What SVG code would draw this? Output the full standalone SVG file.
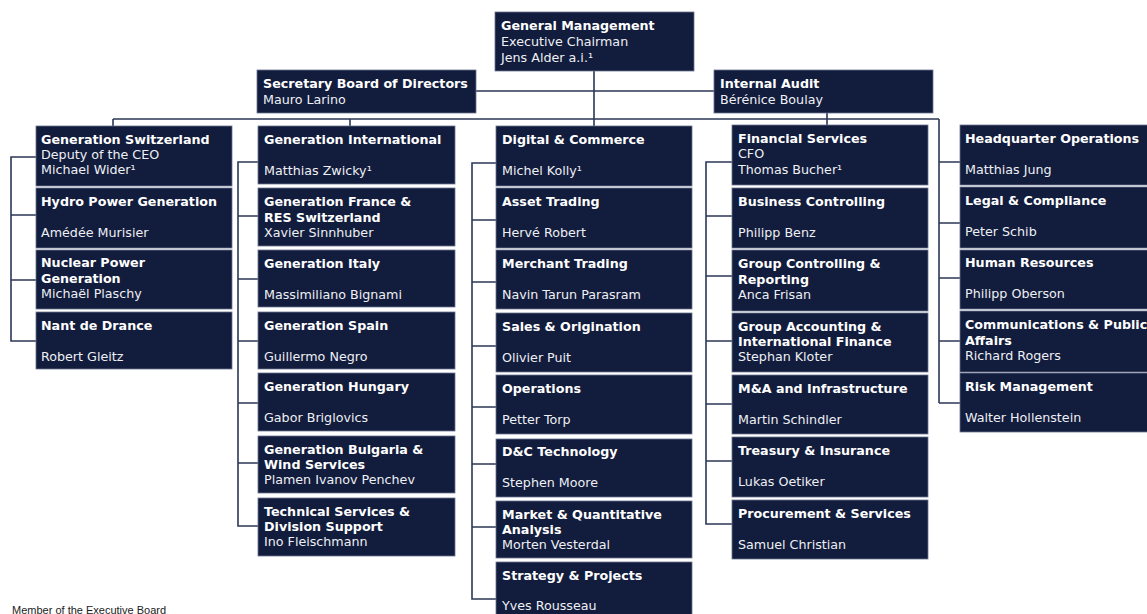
<svg xmlns="http://www.w3.org/2000/svg" width="1147" height="614" viewBox="0 0 1147 614">
<style>
.bx{fill:#121c3c;stroke:#6c7590;stroke-width:0.8}
.t{font-family:"DejaVu Sans",Verdana,sans-serif;font-size:12.7px;fill:#ffffff}
.b{font-weight:bold}
.n{fill:#eef0f5}
.ln{fill:none;stroke:#2c3757;stroke-width:1.6}
.fn{font-family:"Liberation Sans",Arial,sans-serif;font-size:11px;fill:#222}
</style>
<rect width="1147" height="614" fill="#ffffff"/>
<g id="connectors" class="ln">
<path d="M594 71V126M476 91H714M113 119H939M113 119V126M350 119V126M827 113V126M939 119V403"/>
<path d="M36 157H11V341H36M11 215H36M11 280H36"/>
<path d="M258 162H238V526H258M238 216H258M238 279H258M238 341H258M238 403H258M238 463H258"/>
<path d="M496 163H472V599H496M472 220H496M472 282H496M472 346H496M472 407H496M472 464H496M472 527H496"/>
<path d="M732 162H706V524H732M706 216H732M706 276H732M706 341H732M706 404H732M706 461H732"/>
<path d="M939 162H960M939 223H960M939 278H960M939 341H960M939 403H960"/>
</g>
<g id="general-management"><rect class="bx" x="495" y="12" width="199" height="59"/><text class="t b" x="501" y="30">General Management</text><text class="t n" x="501" y="46">Executive Chairman</text><text class="t n" x="501" y="62">Jens Alder a.i.¹</text></g>
<g id="secretary"><rect class="bx" x="257" y="70" width="219" height="43"/><text class="t b" x="263" y="88">Secretary Board of Directors</text><text class="t n" x="263" y="104">Mauro Larino</text></g>
<g id="internal-audit"><rect class="bx" x="714" y="70" width="219" height="43"/><text class="t b" x="720" y="88">Internal Audit</text><text class="t n" x="720" y="104">Bérénice Boulay</text></g>

<g id="gen-switzerland"><rect class="bx" x="36" y="126" width="196" height="60"/><text class="t b" x="41" y="144">Generation Switzerland</text><text class="t n" x="41" y="159">Deputy of the CEO</text><text class="t n" x="41" y="174">Michael Wider¹</text></g>
<g id="hydro"><rect class="bx" x="36" y="188" width="196" height="60"/><text class="t b" x="41" y="206">Hydro Power Generation</text><text class="t n" x="41" y="237">Amédée Murisier</text></g>
<g id="nuclear"><rect class="bx" x="36" y="250" width="196" height="59"/><text class="t b" x="41" y="267">Nuclear Power</text><text class="t b" x="41" y="283">Generation</text><text class="t n" x="41" y="298">Michaël Plaschy</text></g>
<g id="nant"><rect class="bx" x="36" y="312" width="196" height="57"/><text class="t b" x="41" y="330">Nant de Drance</text><text class="t n" x="41" y="361">Robert Gleitz</text></g>

<g id="gen-international"><rect class="bx" x="258" y="126" width="197" height="58"/><text class="t b" x="264" y="144">Generation International</text><text class="t n" x="264" y="175">Matthias Zwicky¹</text></g>
<g id="gen-france"><rect class="bx" x="258" y="188" width="197" height="58"/><text class="t b" x="264" y="206">Generation France &amp;</text><text class="t b" x="264" y="222">RES Switzerland</text><text class="t n" x="264" y="237">Xavier Sinnhuber</text></g>
<g id="gen-italy"><rect class="bx" x="258" y="250" width="197" height="57"/><text class="t b" x="264" y="268">Generation Italy</text><text class="t n" x="264" y="299">Massimiliano Bignami</text></g>
<g id="gen-spain"><rect class="bx" x="258" y="312" width="197" height="57"/><text class="t b" x="264" y="330">Generation Spain</text><text class="t n" x="264" y="361">Guillermo Negro</text></g>
<g id="gen-hungary"><rect class="bx" x="258" y="373" width="197" height="58"/><text class="t b" x="264" y="391">Generation Hungary</text><text class="t n" x="264" y="422">Gabor Briglovics</text></g>
<g id="gen-bulgaria"><rect class="bx" x="258" y="436" width="197" height="57"/><text class="t b" x="264" y="454">Generation Bulgaria &amp;</text><text class="t b" x="264" y="469">Wind Services</text><text class="t n" x="264" y="484">Plamen Ivanov Penchev</text></g>
<g id="tech-services"><rect class="bx" x="258" y="498" width="197" height="58"/><text class="t b" x="264" y="516">Technical Services &amp;</text><text class="t b" x="264" y="531">Division Support</text><text class="t n" x="264" y="546">Ino Fleischmann</text></g>

<g id="digital-commerce"><rect class="bx" x="496" y="126" width="196" height="60"/><text class="t b" x="502" y="144">Digital &amp; Commerce</text><text class="t n" x="502" y="175">Michel Kolly¹</text></g>
<g id="asset-trading"><rect class="bx" x="496" y="188" width="196" height="60"/><text class="t b" x="502" y="206">Asset Trading</text><text class="t n" x="502" y="237">Hervé Robert</text></g>
<g id="merchant-trading"><rect class="bx" x="496" y="250" width="196" height="59"/><text class="t b" x="502" y="268">Merchant Trading</text><text class="t n" x="502" y="299">Navin Tarun Parasram</text></g>
<g id="sales-origination"><rect class="bx" x="496" y="313" width="196" height="59"/><text class="t b" x="502" y="331">Sales &amp; Origination</text><text class="t n" x="502" y="362">Olivier Puit</text></g>
<g id="operations"><rect class="bx" x="496" y="375" width="196" height="59"/><text class="t b" x="502" y="393">Operations</text><text class="t n" x="502" y="424">Petter Torp</text></g>
<g id="dc-technology"><rect class="bx" x="496" y="439" width="196" height="58"/><text class="t b" x="502" y="456">D&amp;C Technology</text><text class="t n" x="502" y="487">Stephen Moore</text></g>
<g id="market-analysis"><rect class="bx" x="496" y="501" width="196" height="57"/><text class="t b" x="502" y="519">Market &amp; Quantitative</text><text class="t b" x="502" y="534">Analysis</text><text class="t n" x="502" y="549">Morten Vesterdal</text></g>
<g id="strategy-projects"><rect class="bx" x="496" y="562" width="196" height="60"/><text class="t b" x="502" y="580">Strategy &amp; Projects</text><text class="t n" x="502" y="610">Yves Rousseau</text></g>

<g id="financial-services"><rect class="bx" x="732" y="125" width="196" height="60"/><text class="t b" x="738" y="143">Financial Services</text><text class="t n" x="738" y="158">CFO</text><text class="t n" x="738" y="174">Thomas Bucher¹</text></g>
<g id="business-controlling"><rect class="bx" x="732" y="188" width="196" height="60"/><text class="t b" x="738" y="206">Business Controlling</text><text class="t n" x="738" y="237">Philipp Benz</text></g>
<g id="group-controlling"><rect class="bx" x="732" y="250" width="196" height="61"/><text class="t b" x="738" y="268">Group Controlling &amp;</text><text class="t b" x="738" y="284">Reporting</text><text class="t n" x="738" y="299">Anca Frisan</text></g>
<g id="group-accounting"><rect class="bx" x="732" y="313" width="196" height="59"/><text class="t b" x="738" y="331">Group Accounting &amp;</text><text class="t b" x="738" y="346">International Finance</text><text class="t n" x="738" y="361">Stephan Kloter</text></g>
<g id="ma-infrastructure"><rect class="bx" x="732" y="375" width="196" height="59"/><text class="t b" x="738" y="393">M&amp;A and Infrastructure</text><text class="t n" x="738" y="424">Martin Schindler</text></g>
<g id="treasury"><rect class="bx" x="732" y="437" width="196" height="60"/><text class="t b" x="738" y="455">Treasury &amp; Insurance</text><text class="t n" x="738" y="486">Lukas Oetiker</text></g>
<g id="procurement"><rect class="bx" x="732" y="500" width="196" height="59"/><text class="t b" x="738" y="518">Procurement &amp; Services</text><text class="t n" x="738" y="549">Samuel Christian</text></g>

<g id="hq-operations"><rect class="bx" x="960" y="125" width="196" height="60"/><text class="t b" x="965" y="143">Headquarter Operations</text><text class="t n" x="965" y="174">Matthias Jung</text></g>
<g id="legal-compliance"><rect class="bx" x="960" y="187" width="196" height="61"/><text class="t b" x="965" y="205">Legal &amp; Compliance</text><text class="t n" x="965" y="236">Peter Schib</text></g>
<g id="human-resources"><rect class="bx" x="960" y="250" width="196" height="59"/><text class="t b" x="965" y="267">Human Resources</text><text class="t n" x="965" y="298">Philipp Oberson</text></g>
<g id="communications"><rect class="bx" x="960" y="311" width="196" height="61"/><text class="t b" x="965" y="329">Communications &amp; Public</text><text class="t b" x="965" y="345">Affairs</text><text class="t n" x="965" y="360">Richard Rogers</text></g>
<g id="risk-management"><rect class="bx" x="960" y="373" width="196" height="59"/><text class="t b" x="965" y="391">Risk Management</text><text class="t n" x="965" y="422">Walter Hollenstein</text></g>

<text class="fn" x="12" y="614">Member of the Executive Board</text>
</svg>
